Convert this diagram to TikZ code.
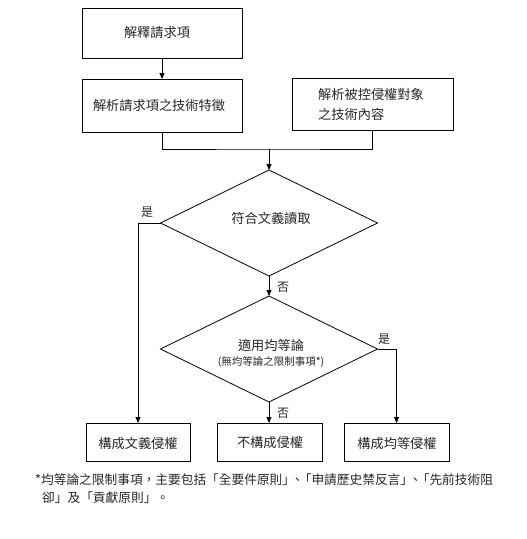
\documentclass[tikz,border=0pt]{standalone}
\usepackage{fontspec}
\newfontfamily\cjk{Noto Sans CJK TC}
\usetikzlibrary{shapes.geometric,arrows.meta}
\begin{document}
\begin{tikzpicture}[x=1pt,y=-1pt,
  every node/.style={font=\cjk\fontsize{13.2}{20}\selectfont, text=black!85},
  box/.style={draw=black, line width=0.8pt, rectangle, inner sep=0pt, outer sep=0pt},
  dia/.style={draw=black, line width=0.8pt, diamond, aspect=2, inner sep=0pt, outer sep=0pt,
     minimum width=217pt, minimum height=106pt},
  conn/.style={draw=black, line width=0.8pt},
  arr/.style={conn, -{Triangle[length=6pt,width=5pt]}},
  lbl/.style={inner sep=0pt, font=\cjk\fontsize{12}{14}\selectfont},
  foot/.style={inner sep=0pt, anchor=west, font=\cjk\fontsize{12.7}{14}\selectfont}
]
\useasboundingbox (0,0) rectangle (527,539);
% boxes
\node[box, minimum width=160pt, minimum height=50pt] (b1) at (162,33) {};
\node[inner sep=0pt] (b1t) at (157,33) {解釋請求項};
\node[box, minimum width=160pt, minimum height=53pt] (b2) at (162,105.5) {};
\node[inner sep=0pt] (b2t) at (159,106) {解析請求項之技術特徵};
\node[box, minimum width=161pt, minimum height=52pt] (b3) at (372.5,104) {};
\node[inner sep=0pt, anchor=north west, align=left] (b3t) at (318,88) {解析被控侵權對象\\之技術內容};
% diamonds
\node[dia] (d1) at (269,223) {};
\node[inner sep=0pt] (d1t) at (271,218) {符合文義讀取};
\node[dia] (d2) at (269,349) {};
\node[inner sep=0pt] (d2t) at (271,345) {適用均等論};
\node[inner sep=0pt, font=\cjk\fontsize{10.5}{12}\selectfont] (d2s) at (271,362) {(無均等論之限制事項*)};
% bottom boxes
\node[box, minimum width=104pt, minimum height=38pt] (r1) at (138,442) {};
\node[inner sep=0pt] (r1t) at (138,443) {構成文義侵權};
\node[box, minimum width=105pt, minimum height=38pt] (r2) at (269.5,442) {};
\node[inner sep=0pt] (r2t) at (270,443) {不構成侵權};
\node[box, minimum width=105pt, minimum height=38pt] (r3) at (396.5,442) {};
\node[inner sep=0pt] (r3t) at (397,443) {構成均等侵權};
% connectors
\coordinate (j) at (269,149);
\draw[arr] (b1.south) -- (b2.north);
\draw[conn] (b2.south) |- (j) -| (b3.south);
\draw[arr] (j) -- (d1.north);
\draw[arr] (d1.south) -- (d2.north);
\draw[arr] (d1.west) -| (r1.north);
\draw[arr] (d2.south) -- (r2.north -| d2.south);
\draw[arr] (d2.east) -| (r3.north);
% labels
\node[lbl] (y1) at (147,212) {是};
\node[lbl] (n1) at (283,287) {否};
\node[lbl] (y2) at (384,339) {是};
\node[lbl] (n2) at (283,413) {否};
% footnote
\node[foot] (f1) at (35,480) {*均等論之限制事項，主要包括「全要件原則」\hspace{-4pt}、\hspace{-5pt}「申請歷史禁反言」\hspace{-4pt}、\hspace{-5pt}「先前技術阻};
\node[foot] (f2) at (42,498) {卻」及「貢獻原則」。};
\end{tikzpicture}
\end{document}
